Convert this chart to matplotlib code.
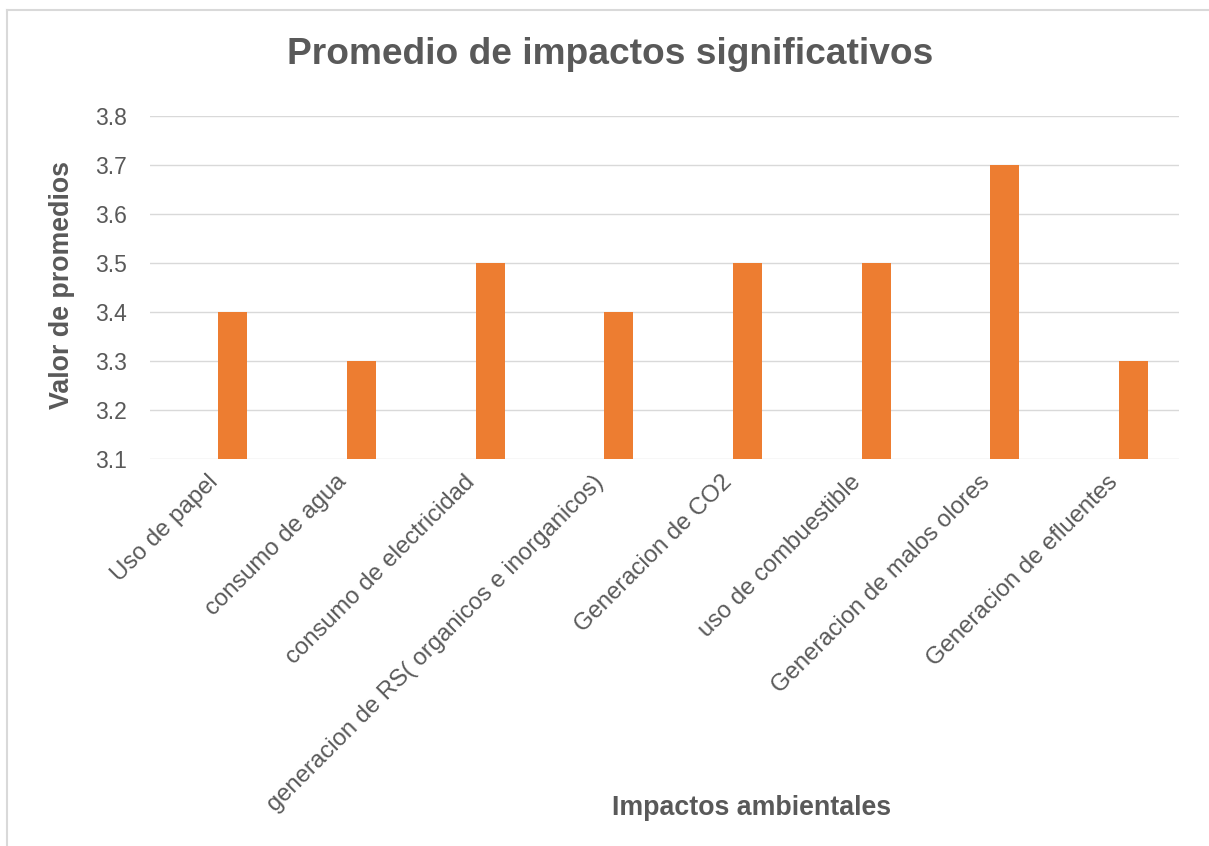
import matplotlib
matplotlib.use("Agg")
import matplotlib.pyplot as plt
from matplotlib.lines import Line2D
import numpy as np

categories = ["Uso de papel", "consumo de agua", "consumo de electricidad",
              "generacion de RS( organicos e inorganicos)", "Generacion de CO2",
              "uso de combuestible", "Generacion de malos olores", "Generacion de efluentes"]
values = [3.4, 3.3, 3.5, 3.4, 3.5, 3.5, 3.7, 3.3]
y_ticks = [3.1, 3.2, 3.3, 3.4, 3.5, 3.6, 3.7, 3.8]

TXT = "#595959"
GRID = "#D9D9D9"
BAR = "#ED7D31"
FONT = "Liberation Sans"

W, H = 1209, 846
fig = plt.figure(figsize=(W / 100, H / 100), dpi=100)
ax = fig.add_axes([150 / W, 1 - 459.3 / H, (1179.3 - 150) / W, (459.3 - 115.5) / H])

x = np.arange(len(categories))
ax.bar(x + 0.144, values, width=0.225, color=BAR, zorder=3)
ax.set_xlim(-0.5, len(categories) - 0.5)
ax.set_ylim(3.1, 3.8)
ax.set_yticks(y_ticks)
ax.set_yticklabels([f"{v:.1f}" for v in y_ticks], fontsize=16.5, color=TXT, family=FONT)
ax.set_xticks(x)
ax.set_xticklabels(categories, rotation=45, ha="right", va="center",
                   rotation_mode="anchor", fontsize=17.2, color=TXT, family=FONT)
ax.tick_params(axis="y", length=0, pad=16.5)
ax.tick_params(axis="x", length=0, pad=14)
ax.grid(axis="y", color=GRID, linewidth=1.0, zorder=0)
for s in ax.spines.values():
    s.set_visible(False)

fig.text(610 / W, 1 - 64.3 / H, "Promedio de impactos significativos", ha="center", va="baseline",
         fontsize=26.7, fontweight="bold", color=TXT, family=FONT)
fig.text(62 / W, 1 - 285 / H, "Valor de promedios", ha="center", va="center", rotation=90,
         fontsize=19.3, fontweight="bold", color=TXT, family=FONT)
fig.text(752 / W, 1 - 808 / H, "Impactos ambientales", ha="center", va="center",
         fontsize=19.3, fontweight="bold", color=TXT, family=FONT)

fig.add_artist(Line2D([7 / W, 7 / W], [0, 1 - 10.5 / H], transform=fig.transFigure,
                      color=GRID, linewidth=1.5))
fig.add_artist(Line2D([7 / W, 1], [1 - 10.5 / H, 1 - 10.5 / H], transform=fig.transFigure,
                      color=GRID, linewidth=1.5))

fig.savefig("out.png", dpi=100, facecolor="white")
